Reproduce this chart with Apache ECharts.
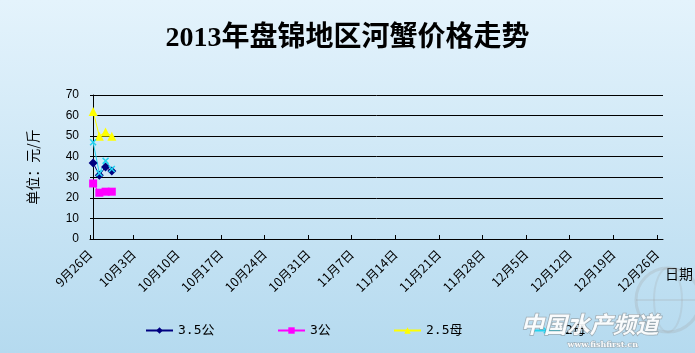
<!DOCTYPE html>
<html>
<head>
<meta charset="utf-8">
<script src="https://cdn.jsdelivr.net/npm/echarts@6/dist/echarts.min.js"></script>
<style>html,body{margin:0;padding:0;}#c{width:695px;height:353px;}</style>
</head>
<body>
<div id="c"></div>
<script>
// ---- data ----
const titleText = '2013年盘锦地区河蟹价格走势';
const tickLabels = ['9月26日','10月3日','10月10日','10月17日','10月24日','10月31日','11月7日','11月14日','11月21日','11月28日','12月5日','12月12日','12月19日','12月26日'];
const pointDays = [0, 1, 2, 3]; // day offset from 9月26日
const seriesNames = ['3.5公', '3公', '2.5母', '2母'];
const s35gong = [37, 31, 35, 33];
const s3gong  = [27, 22.5, 23, 23];
const s25mu   = [62, 50, 52, 50];
const s2mu    = [47, 32, 38, 34];
const yTicks  = [0, 10, 20, 30, 40, 50, 60, 70];

const DAYS_PER_TICK = 7;
const tickValues = tickLabels.map((_, i) => i * DAYS_PER_TICK - 0.5);
const pair = arr => arr.map((v, i) => [pointDays[i], v]);

const xPath = 'path://M0,1.5L1.5,0L5,3.5L8.5,0L10,1.5L6.5,5L10,8.5L8.5,10L5,6.5L1.5,10L0,8.5L3.5,5Z';

const chart = echarts.init(document.getElementById('c'), null, {renderer: 'canvas'});
const legendFont = {fontFamily: "'DejaVu Sans Mono','Noto Sans CJK SC'", fontSize: 13, color: '#000'};
const mkLegend = (name, left) => ({
  data: [name], left: left, top: 324, itemWidth: 27, itemHeight: 8, itemGap: 0,
  textStyle: legendFont, padding: 0
});

chart.setOption({
  animation: false,
  backgroundColor: new echarts.graphic.LinearGradient(0, 0, 0, 1, [
    {offset: 0, color: '#e4f3fc'}, {offset: 1, color: '#b5daef'}
  ]),
  title: {
    text: titleText, left: 'center', top: 20,
    textStyle: {fontFamily: "'Liberation Serif','Noto Sans CJK SC'", fontWeight: 'bold', fontSize: 28, color: '#000'}
  },
  legend: [
    mkLegend(seriesNames[0], 145),
    mkLegend(seriesNames[1], 277),
    mkLegend(seriesNames[2], 393),
    mkLegend(seriesNames[3], 532)
  ],
  grid: {left: 90, right: 32, top: 95, bottom: 114, containLabel: false},
  xAxis: {
    type: 'value', min: -0.5, max: 91.5,
    splitLine: {show: false},
    axisLine: {show: true, onZero: false, lineStyle: {color: '#000', width: 1}},
    axisTick: {show: true, inside: true, length: 4, lineStyle: {color: '#000'}, customValues: tickValues},
    axisLabel: {
      customValues: tickValues, rotate: 45, margin: 13,
      fontFamily: "'Noto Sans CJK SC'", fontSize: 12.5, color: '#000',
      formatter: v => tickLabels[Math.round((v + 0.5) / DAYS_PER_TICK)] || ''
    }
  },
  yAxis: {
    type: 'value', min: yTicks[0], max: yTicks[yTicks.length - 1], interval: 10,
    name: '单位：元/斤', nameLocation: 'middle', nameGap: 50,
    nameTextStyle: {fontFamily: "'Noto Sans CJK SC'", fontSize: 14, color: '#000'},
    axisLine: {show: true, lineStyle: {color: '#000', width: 1}},
    axisTick: {show: false},
    splitLine: {show: true, lineStyle: {color: '#000', width: 1}},
    axisLabel: {margin: 11, fontFamily: "'Liberation Sans','Arial'", fontSize: 12, color: '#000'}
  },
  graphic: [
    {type: 'text', left: 665, top: 267, style: {text: '日期', font: "14px 'Noto Sans CJK SC'", fill: '#000'}},
    {type: 'circle', z: 100, shape: {cx: 668, cy: 300, r: 32}, style: {fill: 'none', stroke: 'rgba(160,160,160,0.25)', lineWidth: 3}},
    {type: 'ellipse', z: 100, shape: {cx: 668, cy: 300, rx: 14, ry: 32}, style: {fill: 'none', stroke: 'rgba(160,160,160,0.2)', lineWidth: 2}},
    {type: 'line', z: 100, shape: {x1: 636, y1: 300, x2: 695, y2: 300}, style: {stroke: 'rgba(160,160,160,0.2)', lineWidth: 2}},
    {type: 'text', z: 100, left: 520, top: 312, style: {
      text: '中国水产频道', font: "italic bold 23px 'Noto Sans CJK SC'",
      fill: 'rgba(255,255,255,0.92)', stroke: 'rgba(130,130,130,0.55)', lineWidth: 1.5
    }},
    {type: 'text', z: 100, left: 567, top: 340, style: {
      text: 'www.fishfirst.cn', font: "bold 8px 'DejaVu Serif'",
      fill: 'rgba(255,255,255,0.92)', stroke: 'rgba(130,130,130,0.55)', lineWidth: 1
    }}
  ],
  series: [
    {name: seriesNames[0], type: 'line', data: pair(s35gong), symbol: 'diamond', symbolSize: 9,
      lineStyle: {color: '#000080', width: 1}, itemStyle: {color: '#000080'}},
    {name: seriesNames[1], type: 'line', data: pair(s3gong), symbol: 'rect', symbolSize: 8,
      lineStyle: {color: '#ff00ff', width: 1}, itemStyle: {color: '#ff00ff'}},
    {name: seriesNames[2], type: 'line', data: pair(s25mu), symbol: 'triangle', symbolSize: 9,
      lineStyle: {color: '#ffff00', width: 1}, itemStyle: {color: '#ffff00'}},
    {name: seriesNames[3], type: 'line', data: pair(s2mu), symbol: xPath, symbolSize: 7,
      lineStyle: {color: '#22d4f0', width: 1}, itemStyle: {color: '#22d4f0'}}
  ]
});
</script>
</body>
</html>
